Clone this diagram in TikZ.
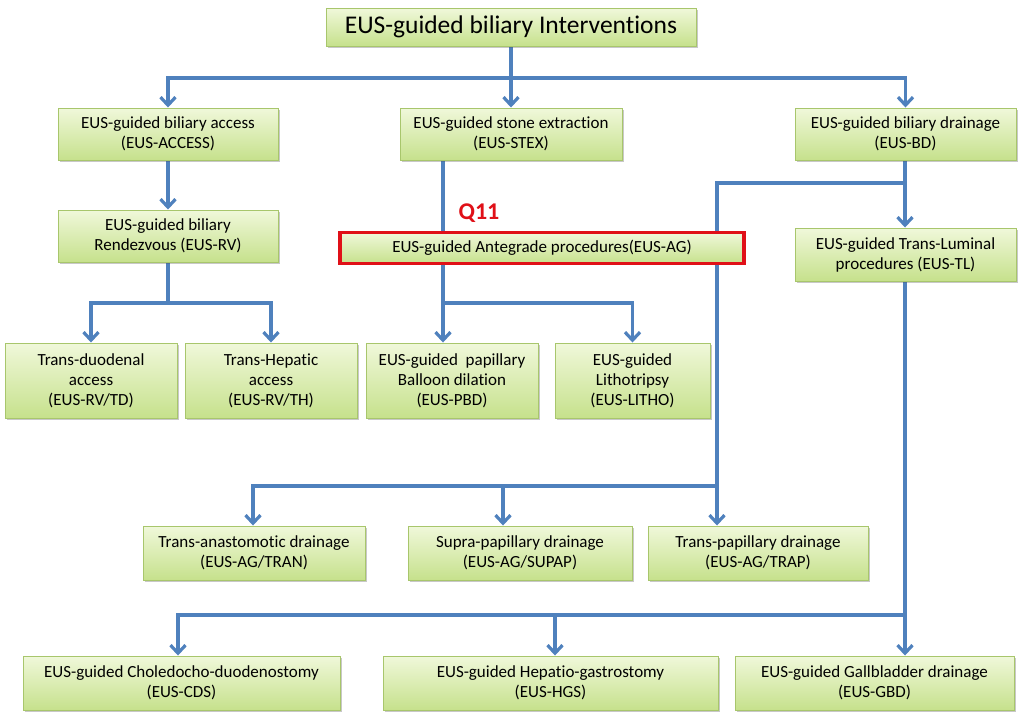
\documentclass[tikz,border=0pt]{standalone}
\usepackage{fontspec}
\setmainfont{Carlito}[Ligatures={NoCommon}]
\usetikzlibrary{arrows.meta,shadows,backgrounds}
\definecolor{lineblue}{HTML}{4F81BD}
\definecolor{boxborder}{HTML}{A8C66C}
\definecolor{boxtop}{HTML}{F0F8DA}
\definecolor{boxbot}{HTML}{C6E18C}
\definecolor{qred}{HTML}{E01018}
\begin{document}
\begin{tikzpicture}[x=1pt,y=-1pt,
  box/.style={rectangle, draw=boxborder, line width=1pt, top color=boxtop, bottom color=boxbot,
    align=center, inner sep=0pt, font=\fontsize{17}{20}\selectfont,
    drop shadow={shadow xshift=1.5pt, shadow yshift=-1.5pt, opacity=0.3, fill=black!70}},
  redbox/.style={box, draw=qred, line width=3.5pt},
  conn/.style={draw=lineblue, line width=3.2pt},
  arr/.style={conn, -{Straight Barb[length=8pt,width=15pt]}}]
\useasboundingbox (0,0) rectangle (1024,721);

% nodes
\node[box, minimum width=370, minimum height=38, font=\fontsize{25.5}{28}\selectfont] (top) at (511,27) {EUS-guided biliary Interventions};
\node[box, minimum width=220, minimum height=52] (acc) at (168,134) {EUS-guided biliary access\\(EUS-ACCESS)};
\node[box, minimum width=222, minimum height=52] (stex) at (511,134) {EUS-guided stone extraction\\(EUS-STEX)};
\node[box, minimum width=221, minimum height=52] (bd) at (905.5,134) {EUS-guided biliary drainage\\(EUS-BD)};
\node[box, minimum width=220, minimum height=52] (rv) at (168,236) {EUS-guided biliary\\Rendezvous (EUS-RV)};
\node[redbox, minimum width=404, minimum height=31] (ag) at (542,248) {EUS-guided Antegrade procedures(EUS-AG)};
\node[box, minimum width=221, minimum height=53] (tl) at (905.5,254.5) {EUS-guided Trans-Luminal\\procedures (EUS-TL)};
\node[font=\fontsize{24}{26}\selectfont\bfseries, text=qred] (q11) at (479,213) {Q11};
\node[box, minimum width=172, minimum height=75] (td) at (91,380.5) {Trans-duodenal\\access\\(EUS-RV/TD)};
\node[box, minimum width=172, minimum height=75] (th) at (271,380.5) {Trans-Hepatic\\access\\(EUS-RV/TH)};
\node[box, minimum width=172, minimum height=75] (pbd) at (452,380.5) {EUS-guided\ \ papillary\\Balloon dilation\\(EUS-PBD)};
\node[box, minimum width=155, minimum height=75] (litho) at (632.5,380.5) {EUS-guided\\Lithotripsy\\(EUS-LITHO)};
\node[box, minimum width=222, minimum height=54] (tran) at (254,553) {Trans-anastomotic drainage\\(EUS-AG/TRAN)};
\node[box, minimum width=224, minimum height=54] (supap) at (520,553) {Supra-papillary drainage\\(EUS-AG/SUPAP)};
\node[box, minimum width=220, minimum height=54] (trap) at (758,553) {Trans-papillary drainage\\(EUS-AG/TRAP)};
\node[box, minimum width=317, minimum height=54] (cds) at (181.5,683) {EUS-guided Choledocho-duodenostomy\\(EUS-CDS)};
\node[box, minimum width=335, minimum height=54] (hgs) at (550.5,683) {EUS-guided Hepatio-gastrostomy\\(EUS-HGS)};
\node[box, minimum width=279, minimum height=54] (gbd) at (874.5,683) {EUS-guided Gallbladder drainage\\(EUS-GBD)};

% junctions
\coordinate (j1) at (511,78);
\coordinate (j2) at (168,303);
\coordinate (xs) at (443,0);
\coordinate (j3) at (443,303);
\coordinate (j4) at (905,183);
\coordinate (j5) at (717,183);
\coordinate (j6) at (717,486);
\coordinate (xtr) at (253,0);
\coordinate (xsu) at (503,0);
\coordinate (j7) at (905,615);
\coordinate (xc) at (178,0);
\coordinate (xh) at (555,0);

\begin{scope}[on background layer]
\fill[white] (0,0) rectangle (1024,721);
\draw[conn] (top.south) -- (j1);
\draw[arr] (j1) -| (acc.north);
\draw[arr] (j1) -| (bd.north);
\draw[arr] (j1) -- (stex.north);
\draw[arr] (acc) -- (rv);
\draw[conn] (rv) -- (j2);
\draw[arr] (j2) -| (td.north);
\draw[arr] (j2) -| (th.north);
\draw[conn] (stex.south -| xs) -- (ag.north -| xs);
\draw[conn] (ag.south -| xs) -- (j3);
\draw[arr] (j3) -- (pbd.north -| j3);
\draw[arr] (j3) -| (litho.north);
\draw[conn] (bd.south -| j4) -- (j4);
\draw[arr] (j4) -- (tl.north -| j4);
\draw[conn] (j4) -- (j5) -- (j6);
\draw[arr] (j6) -- (trap.north -| j6);
\draw[arr] (j6) -| (tran.north -| xtr);
\draw[arr] (j6 -| xsu) -- (supap.north -| xsu);
\draw[conn] (tl.south -| j7) -- (j7);
\draw[arr] (j7) -- (gbd.north -| j7);
\draw[arr] (j7) -| (cds.north -| xc);
\draw[arr] (j7 -| xh) -- (hgs.north -| xh);
\end{scope}
\end{tikzpicture}
\end{document}
